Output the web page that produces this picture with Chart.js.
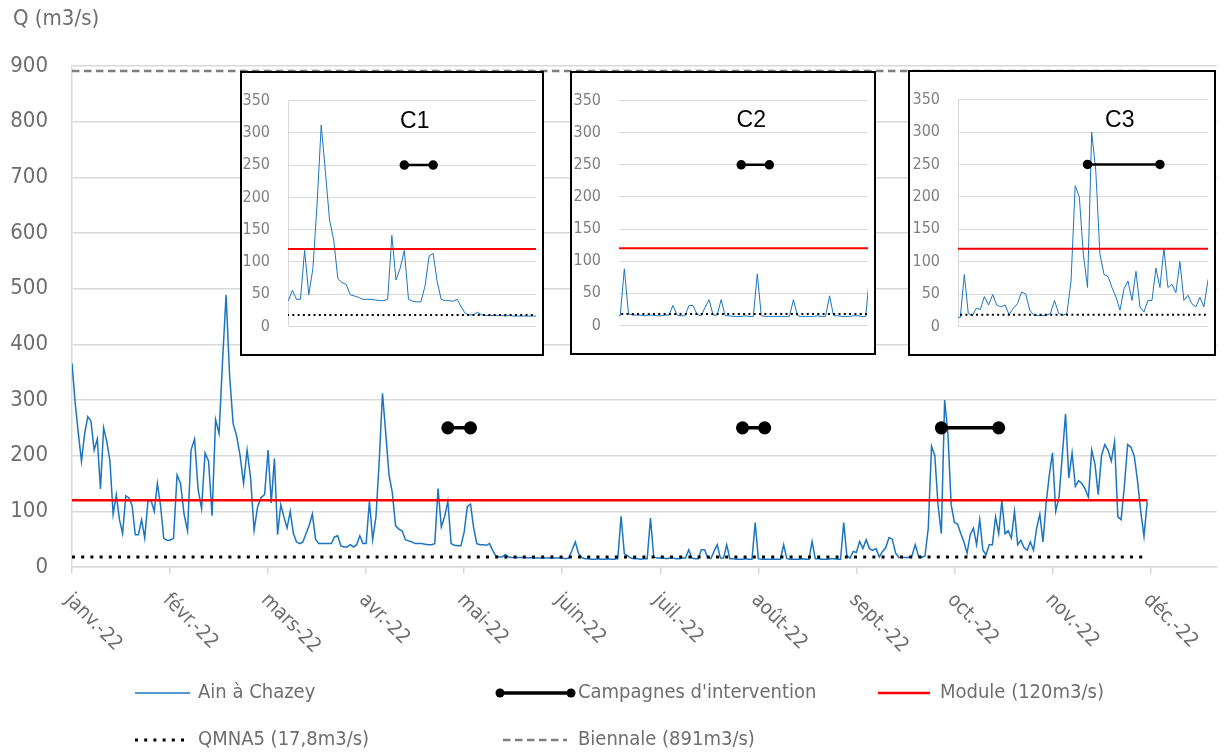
<!DOCTYPE html>
<html>
<head>
<meta charset="utf-8">
<script src="https://cdn.jsdelivr.net/npm/chart.js@4.4.1/dist/chart.umd.min.js"></script>
<style>
  body { margin: 0; background: #fff; }
  #wrap { position: relative; width: 1225px; height: 753px; overflow: hidden; }
  #main { position: absolute; left: 0; top: 0; }
  .inset { position: absolute; background: #fff; border: 2px solid #000; box-sizing: border-box; }
  .inset canvas { display: block; }
</style>
</head>
<body>
<div id="wrap">
  <canvas id="main" width="1225" height="753"></canvas>
  <div class="inset" style="left:240px;top:71px;width:304px;height:285px"><canvas id="inset0" width="300" height="281"></canvas></div>
  <div class="inset" style="left:570px;top:71px;width:306px;height:284px"><canvas id="inset1" width="302" height="280"></canvas></div>
  <div class="inset" style="left:908px;top:70px;width:308px;height:286px"><canvas id="inset2" width="304" height="282"></canvas></div>
</div>
<script>
// month tick labels
const months = ['janv.-22', 'févr.-22', 'mars-22', 'avr.-22', 'mai-22', 'juin-22',
  'juil.-22', 'août-22', 'sept.-22', 'oct.-22', 'nov.-22', 'déc.-22'];
const daysInMonth = [31, 28, 31, 30, 31, 30, 31, 31, 30, 31, 30, 31];

// daily flow of the Ain at Chazey (m3/s), one array per month
const flowJan = [366, 295, 240, 190, 240, 270, 262, 210, 230, 140, 250, 225, 190, 95, 130, 85, 60, 128, 124, 110, 58, 58, 85, 52, 118, 120, 100, 150, 110, 52, 48];
const flowFeb = [48, 52, 165, 150, 95, 65, 210, 230, 140, 105, 205, 190, 92, 265, 240, 370, 489, 345, 258, 236, 200, 150, 210, 160, 66, 108, 125, 130];
const flowMar = [210, 115, 195, 58, 112, 90, 70, 100, 60, 45, 42, 45, 60, 75, 95, 50, 42, 42, 42, 42, 42, 54, 56, 38, 36, 36, 40, 36, 40, 56, 42];
const flowApr = [42, 118, 49, 90, 190, 312, 240, 165, 134, 74, 68, 65, 49, 47, 45, 42, 42, 42, 41, 40, 40, 42, 141, 72, 90, 118, 42, 39, 38, 38];
const flowMay = [63, 109, 113, 70, 42, 40, 40, 39, 42, 30, 20, 18, 18, 22, 18, 17, 17, 17, 17, 17, 16, 17, 16, 16, 16, 16, 16, 16, 16, 16, 16];
const flowJun = [16, 15, 16, 30, 45, 24, 17, 15, 15, 14, 14, 15, 14, 14, 15, 14, 14, 15, 91, 24, 20, 16, 15, 15, 14, 15, 15, 88, 18, 16];
const flowJul = [16, 16, 15, 16, 16, 15, 15, 16, 16, 31, 16, 15, 15, 31, 31, 17, 15, 28, 40, 16, 16, 40, 15, 15, 14, 14, 14, 15, 14, 14, 80];
const flowAug = [15, 14, 14, 14, 14, 14, 14, 14, 40, 15, 14, 14, 14, 14, 15, 14, 14, 46, 15, 15, 14, 14, 14, 15, 15, 14, 14, 80, 20, 16, 28];
const flowSep = [26, 46, 33, 49, 33, 30, 33, 18, 28, 35, 53, 50, 25, 17, 17, 17, 17, 20, 40, 20, 17, 20, 70, 217, 200, 110, 60, 300, 240, 112];
const flowOct = [80, 77, 60, 45, 25, 58, 70, 40, 85, 30, 22, 40, 40, 90, 60, 120, 60, 65, 52, 100, 40, 48, 35, 30, 45, 30, 70, 95, 45, 115, 165];
const flowNov = [205, 100, 125, 200, 275, 160, 205, 145, 155, 150, 140, 125, 210, 185, 130, 200, 220, 210, 190, 225, 90, 85, 145, 220, 215, 200, 156, 100, 55, 118];

// reference flows (m3/s)
const moduleQ = 120;
const qmna5Q = 17.8;
const biennaleQ = 891;

// intervention campaigns
const campaignNames = ['C1', 'C2', 'C3'];
const campaignStart = ['2022-04-26', '2022-07-27', '2022-09-27'];
const campaignEnd = ['2022-05-03', '2022-08-03', '2022-10-15'];
const campaignLevel = 250;

// zoom windows of the three insets (in months from 1 Jan)
const insetMin = [2.90, 5.857, 7.82];
const insetMax = [4.89, 7.857, 9.84];

const FONT = '"DejaVu Sans Condensed", "Liberation Sans Narrow", sans-serif';
const BLUE = '#1b75c2';

function monthPos(dateStr) {
  const [y, m, d] = dateStr.split('-').map(Number);
  return (m - 1) + (d - 1) / daysInMonth[m - 1];
}

const flowPoints = [];
[flowJan, flowFeb, flowMar, flowApr, flowMay, flowJun, flowJul, flowAug, flowSep, flowOct, flowNov]
  .forEach((vals, m) => vals.forEach((v, i) => flowPoints.push({ x: m + i / daysInMonth[m], y: v })));
const firstX = flowPoints[0].x;
const lastX = flowPoints[flowPoints.length - 1].x;

const campaignPoints = [];
campaignNames.forEach((n, i) => {
  campaignPoints.push({ x: monthPos(campaignStart[i]), y: campaignLevel });
  campaignPoints.push({ x: monthPos(campaignEnd[i]), y: campaignLevel });
  campaignPoints.push({ x: monthPos(campaignEnd[i]) + 0.01, y: null });
});

function flatLine(v) { return [{ x: firstX, y: v }, { x: lastX, y: v }]; }

function makeDatasets(small) {
  const ds = [
    { label: "Campagnes d'intervention", data: campaignPoints, borderColor: '#000', backgroundColor: '#000',
      borderWidth: small ? 2.5 : 3.5, pointRadius: small ? 3.5 : 4.8, pointHoverRadius: 0, spanGaps: false },
    { label: 'Module (120m3/s)', data: flatLine(moduleQ), borderColor: '#ff0000',
      borderWidth: small ? 2 : 2.5, pointRadius: 0 },
    { label: 'QMNA5 (17,8m3/s)', data: flatLine(qmna5Q), borderColor: '#000',
      borderWidth: small ? 2 : 3, borderDash: small ? [2, 3.3] : [3, 6.2], pointRadius: 0 },
    { label: 'Ain à Chazey', data: flowPoints, borderColor: BLUE,
      borderWidth: small ? 1 : 1.5, pointRadius: 0 }
  ];
  if (!small) {
    ds.splice(3, 0, { label: 'Biennale (891m3/s)', data: flatLine(biennaleQ), borderColor: '#7f7f7f',
      borderWidth: 2.5, borderDash: [7.5, 4.5], pointRadius: 0 });
  }
  return ds;
}

// y axis title + rotated month labels + legend, drawn on the main canvas
const mainDecor = {
  id: 'mainDecor',
  afterDraw(chart) {
    const ctx = chart.ctx;
    const xs = chart.scales.x;
    ctx.save();
    ctx.fillStyle = '#6e6e6e';
    ctx.font = '22px ' + FONT;
    ctx.textBaseline = 'middle';
    ctx.textAlign = 'left';
    ctx.fillText('Q (m3/s)', 13, 19);

    ctx.font = '20px ' + FONT;
    months.forEach((m, i) => {
      const px = xs.getPixelForValue(i);
      ctx.save();
      ctx.translate(px - 4, xs.top + 30);
      ctx.rotate(Math.PI / 4);
      ctx.fillText(m, 0, 0);
      ctx.restore();
    });

    // legend: [dataset label, sample start, sample end, text x, row y]
    const items = [
      ['Ain à Chazey', 135, 190, 198, 693],
      ["Campagnes d'intervention", 500, 571, 578, 693],
      ['Module (120m3/s)', 878, 930, 940, 693],
      ['QMNA5 (17,8m3/s)', 135, 190, 198, 740],
      ['Biennale (891m3/s)', 503, 567, 578, 740]
    ];
    items.forEach(([label, x0, x1, tx, y]) => {
      const ds = chart.data.datasets.find(d => d.label === label);
      ctx.save();
      ctx.strokeStyle = ds.borderColor;
      ctx.lineWidth = ds.borderWidth;
      ctx.setLineDash(ds.borderDash || []);
      ctx.beginPath();
      ctx.moveTo(x0, y);
      ctx.lineTo(x1, y);
      ctx.stroke();
      if (ds.pointRadius) {
        ctx.fillStyle = ds.backgroundColor;
        [x0, x1].forEach(px => { ctx.beginPath(); ctx.arc(px, y, 4.5, 0, Math.PI * 2); ctx.fill(); });
      }
      ctx.restore();
      ctx.fillText(label, tx, y);
    });
    ctx.restore();
  }
};

new Chart(document.getElementById('main'), {
  type: 'line',
  data: { datasets: makeDatasets(false) },
  plugins: [mainDecor],
  options: {
    responsive: false,
    animation: false,
    devicePixelRatio: 1,
    layout: { padding: { top: 66, right: 3, left: 0, bottom: 0 } },
    plugins: { legend: { display: false }, tooltip: { enabled: false } },
    scales: {
      x: {
        type: 'linear', min: 0, max: 11.675,
        ticks: { stepSize: 1, display: false },
        afterBuildTicks: s => { s.ticks = s.ticks.filter(t => Math.abs(t.value - Math.round(t.value)) < 1e-6); },
        afterFit: s => { s.height = 186; },
        grid: { drawOnChartArea: false, drawTicks: true, tickLength: 7, color: '#d9d9d9', lineWidth: 1.5 },
        border: { display: true, color: '#d9d9d9', width: 1.5 }
      },
      y: {
        min: 0, max: 900,
        ticks: { stepSize: 100, padding: 24, color: '#6e6e6e', font: { family: FONT, size: 22 } },
        afterFit: s => { s.width = 72; },
        grid: { color: '#d9d9d9', lineWidth: 1.5, drawTicks: false },
        border: { display: true, color: '#d9d9d9', width: 1.5 }
      }
    }
  }
});

// campaign name above each campaign bar inside the insets
const campaignTag = {
  id: 'campaignTag',
  afterDatasetsDraw(chart, args, opts) {
    const i = opts.index;
    const ctx = chart.ctx;
    const mid = (monthPos(campaignStart[i]) + monthPos(campaignEnd[i])) / 2;
    ctx.save();
    ctx.font = '23px "Liberation Sans", Arial, sans-serif';
    ctx.fillStyle = '#000';
    ctx.textAlign = 'center';
    ctx.textBaseline = 'middle';
    ctx.fillText(campaignNames[i], chart.scales.x.getPixelForValue(mid) - 4, chart.scales.y.getPixelForValue(318));
    ctx.restore();
  }
};

// inset layout: [y axis width, top, right, bottom]
const insetPad = [[46, 16, 0, 9.7], [47, 24.3, 1, 21.3], [48, 26.3, 1, 18.3]];

campaignNames.forEach((n, i) => {
  const p = insetPad[i];
  new Chart(document.getElementById('inset' + i), {
    type: 'line',
    data: { datasets: makeDatasets(true) },
    plugins: [campaignTag],
    options: {
      responsive: false,
      animation: false,
      devicePixelRatio: 1,
      layout: { padding: { top: p[1], right: p[2], bottom: p[3], left: 0 } },
      plugins: { legend: { display: false }, tooltip: { enabled: false }, campaignTag: { index: i } },
      scales: {
        x: { type: 'linear', min: insetMin[i], max: insetMax[i], display: false },
        y: {
          min: 0, max: 350,
          ticks: { stepSize: 50, padding: 18, color: '#7f7f7f', font: { family: FONT, size: 16 } },
          afterFit: s => { s.width = p[0]; },
          grid: { color: '#d9d9d9', lineWidth: 1, drawTicks: false },
          border: { display: i !== 1, color: '#d9d9d9', width: 1 }
        }
      }
    }
  });
});
</script>
</body>
</html>
